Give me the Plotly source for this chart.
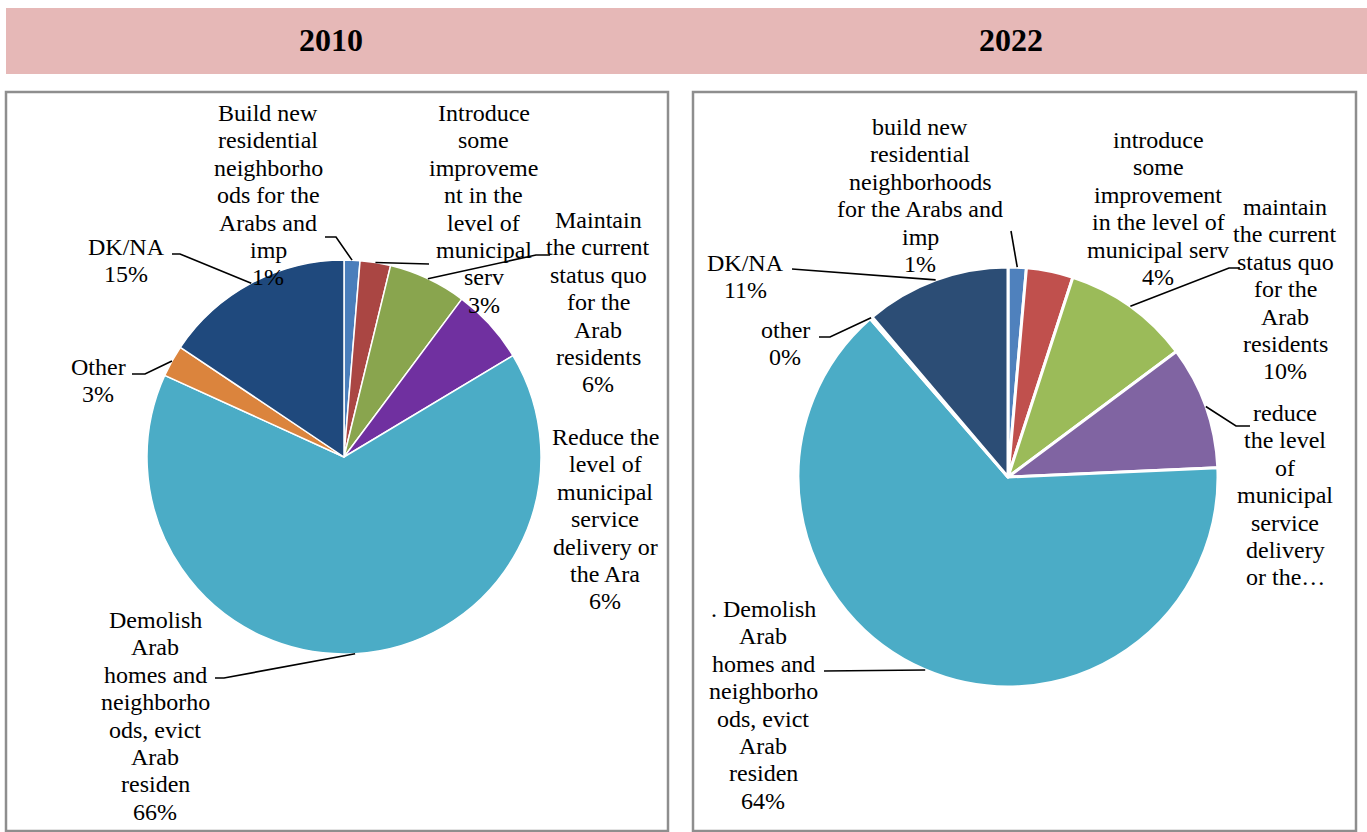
import math
import plotly.graph_objects as go

# ---------------- data ----------------
categories_2010 = ["Build new residential neighborhoods for the Arabs and imp",
                   "Introduce some improvement in the level of municipal serv",
                   "Maintain the current status quo for the Arab residents",
                   "Reduce the level of municipal service delivery or the Ara",
                   "Demolish Arab homes and neighborhoods, evict Arab residen",
                   "Other",
                   "DK/NA"]
values_2010 = [1.3, 2.5, 6.4, 6.2, 65.4, 2.6, 15.6]
pct_2010 = ["1%", "3%", "6%", "6%", "66%", "3%", "15%"]
label_lines_2010 = [
    ["Build new", "residential", "neighborho", "ods for the", "Arabs and", "imp"],
    ["Introduce", "some", "improveme", "nt in the", "level of", "municipal", "serv"],
    ["Maintain", "the current", "status quo", "for the", "Arab", "residents"],
    ["Reduce the", "level of", "municipal", "service", "delivery or", "the Ara"],
    ["Demolish", "Arab", "homes and", "neighborho", "ods, evict", "Arab", "residen"],
    ["Other"],
    ["DK/NA"],
]
colors_2010 = ["#4A7EBB", "#AA4643", "#89A54E", "#7030A0", "#4BACC6", "#DB843D", "#1F497D"]

categories_2022 = ["build new residential neighborhoods for the Arabs and imp",
                   "introduce some improvement in the level of municipal serv",
                   "maintain the current status quo for the Arab residents",
                   "reduce the level of municipal service delivery or the…",
                   ". Demolish Arab homes and neighborhoods, evict Arab residen",
                   "other",
                   "DK/NA"]
values_2022 = [1.4, 3.6, 9.8, 9.5, 64.3, 0.2, 11.2]
pct_2022 = ["1%", "4%", "10%", None, "64%", "0%", "11%"]
label_lines_2022 = [
    ["build new", "residential", "neighborhoods", "for the Arabs and", "imp"],
    ["introduce", "some", "improvement", "in the level of", "municipal serv"],
    ["maintain", "the current", "status quo", "for the", "Arab", "residents"],
    ["reduce", "the level", "of", "municipal", "service", "delivery", "or the…"],
    [". Demolish", "Arab", "homes and", "neighborho", "ods, evict", "Arab", "residen"],
    ["other"],
    ["DK/NA"],
]
colors_2022 = ["#4F81BD", "#C0504D", "#9BBB59", "#8064A2", "#4BACC6", "#F79646", "#2C4D75"]

years = ["2010", "2022"]

# ---------------- layout (pixels) ----------------
W, H = 1367, 832
def X(px): return px / W
def Y(py): return 1 - py / H

FONT = "Liberation Serif, Times New Roman, serif"
LINE = 27.4

pies = [
    dict(cx=344, cy=457, r=197, border=1.5,
         label_pos=[(268, 113), (484, 113), (598, 220), (605, 437), (155, 620), (98, 367), (126, 247)],
         leaders=[[(325, 237), (336, 237)], [(429, 264)], [(550, 255), (536, 255)], None,
                  [(215, 678), (224, 678)], [(132, 374), (145, 374)], [(172, 254), (180, 254)]]),
    dict(cx=1008, cy=477, r=210, border=3,
         label_pos=[(920, 127), (1158, 140), (1285, 207), (1285, 413), (763, 609), (785, 330), (745, 263)],
         leaders=[[(1011, 231)], None, [(1240, 268), (1229, 268)], [(1250, 426), (1236, 426)],
                  [(824, 671)], [(819, 337), (830, 337)], [(792, 269)]]),
]

datasets = [
    (categories_2010, values_2010, pct_2010, label_lines_2010, colors_2010),
    (categories_2022, values_2022, pct_2022, label_lines_2022, colors_2022),
]

fig = go.Figure()
shapes = []
annotations = []

# header band
shapes.append(dict(type="rect", xref="paper", yref="paper", x0=X(6), x1=X(1367), y0=Y(74), y1=Y(8),
                   fillcolor="#E6B8B7", line=dict(width=0), layer="below"))
for yr, cx in zip(years, [331, 1011]):
    annotations.append(dict(text="<b>%s</b>" % yr, x=X(cx), y=Y(40), xref="paper", yref="paper",
                            showarrow=False, xanchor="center", yanchor="middle",
                            font=dict(family=FONT, size=32, color="black")))

# boxes
for x0, x1 in [(6, 668), (693, 1356)]:
    shapes.append(dict(type="rect", xref="paper", yref="paper", x0=X(x0), x1=X(x1), y0=Y(831), y1=Y(92),
                       line=dict(color="#8E8E8E", width=2.5), fillcolor="rgba(0,0,0,0)", layer="below"))

for (cats, vals, pcts, lines, cols), p in zip(datasets, pies):
    cx, cy, r = p["cx"], p["cy"], p["r"]
    fig.add_trace(go.Pie(
        labels=cats, values=vals, sort=False, direction="clockwise", rotation=0,
        marker=dict(colors=cols, line=dict(color="white", width=p["border"])),
        textinfo="none", showlegend=False, hoverinfo="label+percent",
        domain=dict(x=[X(cx - r), X(cx + r)], y=[Y(cy + r), Y(cy - r)]),
    ))
    total = sum(vals)
    cum = 0.0
    for i, v in enumerate(vals):
        mid = (cum + v / 2) / total * 2 * math.pi
        cum += v
        ex, ey = cx + r * math.sin(mid), cy - r * math.cos(mid)
        txt = list(lines[i]) + ([pcts[i]] if pcts[i] else [])
        lx, ly = p["label_pos"][i]
        for k, t in enumerate(txt):
            annotations.append(dict(text=t, x=X(lx), y=Y(ly + k * LINE), xref="paper", yref="paper",
                                    showarrow=False, xanchor="center", yanchor="middle",
                                    font=dict(family=FONT, size=24, color="black")))
        ld = p["leaders"][i]
        if ld:
            pts = list(ld) + [(ex, ey)]
            path = "M %f %f " % (X(pts[0][0]), Y(pts[0][1])) + " ".join(
                "L %f %f" % (X(a), Y(b)) for a, b in pts[1:])
            shapes.append(dict(type="path", xref="paper", yref="paper", path=path,
                               line=dict(color="black", width=1.6)))

fig.update_layout(width=W, height=H, margin=dict(l=0, r=0, t=0, b=0),
                  paper_bgcolor="white", plot_bgcolor="white",
                  shapes=shapes, annotations=annotations)
fig.write_html("out.html", config={"displayModeBar": False},
               post_script="document.body.style.margin='0';document.body.style.overflow='hidden';")
